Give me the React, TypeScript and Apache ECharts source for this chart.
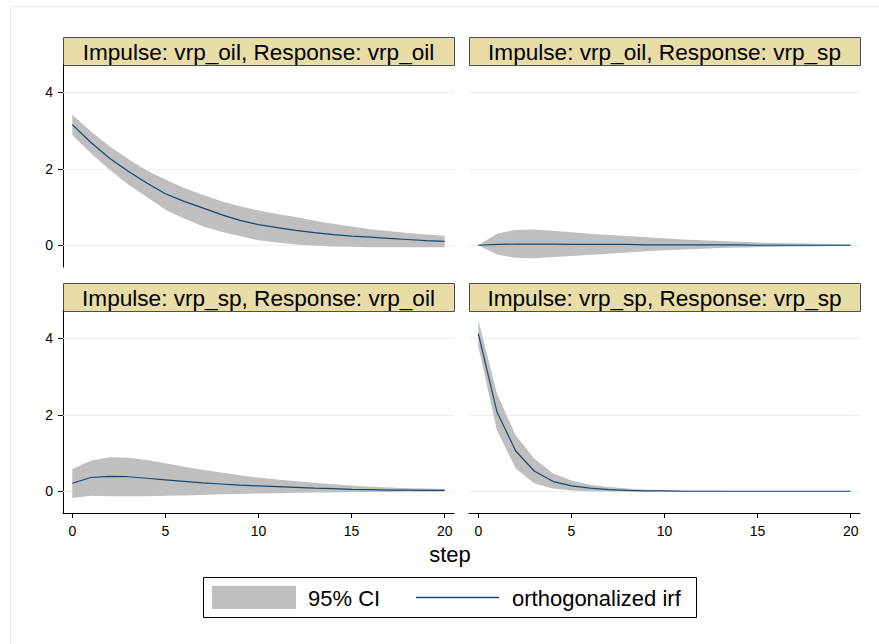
import React, { useEffect, useRef } from "react";
import * as echarts from "echarts";

// Forecast horizon (x axis)
const steps = [0, 1, 2, 3, 4, 5, 6, 7, 8, 9, 10, 11, 12, 13, 14, 15, 16, 17, 18, 19, 20];
const stepTicks = [0, 5, 10, 15, 20];
const valueTicks = [0, 2, 4];

// Panel titles
const panelTitles = [
  "Impulse: vrp_oil, Response: vrp_oil",
  "Impulse: vrp_oil, Response: vrp_sp",
  "Impulse: vrp_sp, Response: vrp_oil",
  "Impulse: vrp_sp, Response: vrp_sp",
];

// vrp_oil -> vrp_oil
const irfOilOil = [3.16, 2.69, 2.28, 1.94, 1.63, 1.35, 1.15, 0.98, 0.80, 0.65, 0.54, 0.46, 0.39, 0.33, 0.28, 0.24, 0.21, 0.18, 0.15, 0.12, 0.10];
const upOilOil = [3.42, 2.98, 2.59, 2.26, 1.96, 1.72, 1.50, 1.32, 1.15, 1.02, 0.91, 0.82, 0.74, 0.64, 0.56, 0.49, 0.42, 0.37, 0.32, 0.28, 0.25];
const loOilOil = [2.89, 2.41, 1.98, 1.59, 1.26, 0.93, 0.70, 0.50, 0.35, 0.24, 0.13, 0.07, 0.02, -0.01, -0.03, -0.04, -0.05, -0.05, -0.05, -0.05, -0.05];

// vrp_oil -> vrp_sp
const irfOilSp = [0, 0.02, 0.03, 0.03, 0.03, 0.02, 0.02, 0.02, 0.02, 0.01, 0.01, 0.01, 0.01, 0.01, 0.01, 0.0, 0.0, 0.0, 0.0, 0.0, 0.0];
const upOilSp = [0, 0.30, 0.40, 0.41, 0.38, 0.34, 0.30, 0.27, 0.24, 0.21, 0.18, 0.15, 0.13, 0.11, 0.09, 0.07, 0.06, 0.05, 0.04, 0.03, 0.02];
const loOilSp = [0, -0.24, -0.33, -0.34, -0.31, -0.28, -0.25, -0.22, -0.19, -0.16, -0.13, -0.11, -0.09, -0.07, -0.06, -0.05, -0.04, -0.03, -0.03, -0.02, -0.02];

// vrp_sp -> vrp_oil
const irfSpOil = [0.21, 0.36, 0.39, 0.38, 0.34, 0.30, 0.26, 0.22, 0.19, 0.16, 0.14, 0.12, 0.10, 0.08, 0.07, 0.05, 0.04, 0.03, 0.03, 0.02, 0.02];
const upSpOil = [0.58, 0.80, 0.89, 0.88, 0.82, 0.73, 0.64, 0.56, 0.49, 0.42, 0.36, 0.31, 0.26, 0.22, 0.18, 0.15, 0.12, 0.10, 0.08, 0.07, 0.06];
const loSpOil = [-0.18, -0.12, -0.13, -0.13, -0.13, -0.12, -0.11, -0.10, -0.08, -0.07, -0.06, -0.05, -0.04, -0.03, -0.03, -0.02, -0.02, -0.02, -0.01, -0.01, -0.01];

// vrp_sp -> vrp_sp
const irfSpSp = [4.13, 2.08, 1.06, 0.53, 0.26, 0.14, 0.08, 0.04, 0.02, 0.01, 0.01, 0.0, 0.0, 0.0, 0.0, 0.0, 0.0, 0.0, 0.0, 0.0, 0.0];
const upSpSp = [4.48, 2.56, 1.47, 0.86, 0.47, 0.28, 0.17, 0.11, 0.07, 0.04, 0.03, 0.02, 0.01, 0.01, 0.0, 0.0, 0.0, 0.0, 0.0, 0.0, 0.0];
const loSpSp = [3.80, 1.60, 0.60, 0.21, 0.07, 0.02, 0.0, -0.01, -0.01, -0.01, 0.0, 0.0, 0.0, 0.0, 0.0, 0.0, 0.0, 0.0, 0.0, 0.0, 0.0];

const panelIrf = [irfOilOil, irfOilSp, irfSpOil, irfSpSp];
const panelUp = [upOilOil, upOilSp, upSpOil, upSpSp];
const panelLo = [loOilOil, loOilSp, loSpOil, loSpSp];

const FONT = "'Liberation Sans', Arial, Helvetica, sans-serif";
const BAND = "#bfbfbf";
const LINE = "#1a476f";
const GRIDLINE = "#e7eef0";
const STRIP = "#e8dca7";

// panel layout: [left, top] of each plot area
const PW = 391;
const PH = 202;
const panelPos = [
  [63, 65],
  [469, 65],
  [63, 311],
  [469, 311],
];
const STRIP_H = 28;

export default function App() {
  const ref = useRef<HTMLDivElement>(null);

  useEffect(() => {
    if (!ref.current) return;
    const chart = echarts.init(ref.current, null, { renderer: "svg" });

    const grids = panelPos.map(([l, t]) => ({ left: l, top: t, width: PW, height: PH, containLabel: false }));

    const xAxes = panelPos.map((_, i) => {
      const bottom = i >= 2;
      return {
        gridIndex: i,
        type: "value",
        min: -0.5,
        max: 20.5,
        show: bottom,
        axisLine: { show: bottom, onZero: false, lineStyle: { color: "#000", width: 1 } },
        axisTick: { show: bottom, length: 5, customValues: stepTicks, lineStyle: { color: "#000", width: 1 } },
        axisLabel: { show: bottom, customValues: stepTicks, fontSize: 14, color: "#000", margin: 11, fontFamily: FONT },
        splitLine: { show: false },
      };
    });

    const yAxes = panelPos.map((_, i) => {
      const left = i % 2 === 0;
      return {
        gridIndex: i,
        type: "value",
        min: -0.57,
        max: 4.72,
        show: left,
        axisLine: { show: left, onZero: false, lineStyle: { color: "#000", width: 1 } },
        axisTick: { show: left, length: 5, customValues: valueTicks, lineStyle: { color: "#000", width: 1 } },
        axisLabel: { show: left, customValues: valueTicks, fontSize: 14, color: "#000", margin: 10, fontFamily: FONT },
        splitLine: { show: false },
      };
    });

    const series: any[] = [];
    panelPos.forEach((_, i) => {
      const lo = panelLo[i];
      const up = panelUp[i];
      const irf = panelIrf[i];
      // 95% confidence band: one polygon running along the upper bound and back along the lower bound
      series.push({
        type: "custom",
        xAxisIndex: i,
        yAxisIndex: i,
        coordinateSystem: "cartesian2d",
        data: [[0, 0]],
        silent: true,
        z: 2,
        renderItem: (_params: any, api: any) => {
          const pts: number[][] = [];
          steps.forEach((s, k) => pts.push(api.coord([s, up[k]])));
          for (let k = steps.length - 1; k >= 0; k--) pts.push(api.coord([steps[k], lo[k]]));
          return {
            type: "polygon",
            shape: { points: pts },
            style: { fill: BAND, stroke: "none" },
          };
        },
        // horizontal grid lines at the labelled values
        markLine: {
          silent: true,
          symbol: ["none", "none"],
          label: { show: false },
          lineStyle: { color: GRIDLINE, width: 1, type: "solid" },
          data: valueTicks.map((v) => ({ yAxis: v })),
          z: 1,
        },
      });
      // orthogonalized impulse response
      series.push({
        type: "line",
        xAxisIndex: i,
        yAxisIndex: i,
        data: steps.map((s, k) => [s, irf[k]]),
        symbol: "none",
        lineStyle: { color: LINE, width: 1.2 },
        z: 3,
        silent: true,
      });
    });

    const graphics: any[] = [
      // faint outer frame
      {
        type: "rect",
        shape: { x: 10.5, y: 6.5, width: 900, height: 700 },
        style: { fill: "none", stroke: "#e3eaee", lineWidth: 1 },
        silent: true,
      },
    ];

    panelPos.forEach(([l, t], i) => {
      graphics.push({
        type: "rect",
        shape: { x: l + 0.5, y: t - STRIP_H + 0.5, width: PW, height: STRIP_H },
        style: { fill: STRIP, stroke: "#4d4d4d", lineWidth: 1 },
        silent: true,
      });
      graphics.push({
        type: "text",
        x: l + PW / 2,
        y: t - STRIP_H / 2 + 1,
        style: {
          text: panelTitles[i],
          fontSize: 22.6,
          fontFamily: FONT,
          fill: "#000",
          align: "center",
          verticalAlign: "middle",
        },
        silent: true,
      });
    });

    // x axis title
    graphics.push({
      type: "text",
      x: 450,
      y: 554,
      style: { text: "step", fontSize: 22, fontFamily: FONT, fill: "#000", align: "center", verticalAlign: "middle" },
      silent: true,
    });

    // legend
    graphics.push(
      {
        type: "rect",
        shape: { x: 203.5, y: 577.5, width: 493, height: 40 },
        style: { fill: "#fff", stroke: "#000", lineWidth: 1 },
        silent: true,
      },
      {
        type: "rect",
        shape: { x: 212, y: 586, width: 84, height: 23 },
        style: { fill: BAND },
        silent: true,
      },
      {
        type: "text",
        x: 308,
        y: 598,
        style: { text: "95% CI", fontSize: 22, fontFamily: FONT, fill: "#000", align: "left", verticalAlign: "middle" },
        silent: true,
      },
      {
        type: "line",
        shape: { x1: 416, y1: 597.5, x2: 499, y2: 597.5 },
        style: { stroke: LINE, lineWidth: 1.5 },
        silent: true,
      },
      {
        type: "text",
        x: 512,
        y: 598,
        style: { text: "orthogonalized irf", fontSize: 22, fontFamily: FONT, fill: "#000", align: "left", verticalAlign: "middle" },
        silent: true,
      }
    );

    chart.setOption({
      animation: false,
      backgroundColor: "#ffffff",
      grid: grids,
      xAxis: xAxes,
      yAxis: yAxes,
      series,
      graphic: graphics,
    });

    return () => chart.dispose();
  }, []);

  return (
    <div
      ref={ref}
      style={{ position: "fixed", left: 0, top: 0, width: 879, height: 644, background: "#fff" }}
    />
  );
}
